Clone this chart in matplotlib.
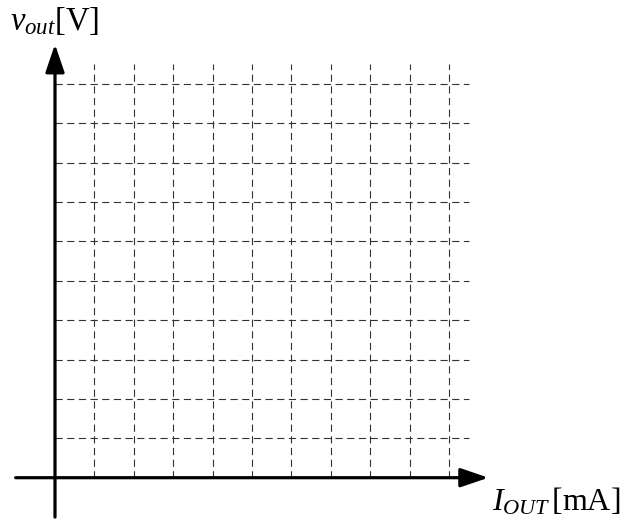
import matplotlib
matplotlib.use("Agg")
import matplotlib.pyplot as plt
from matplotlib.patches import ArrowStyle

# grid definition (in grid units)
grid_ticks = [1, 2, 3, 4, 5, 6, 7, 8, 9, 10]
grid_extent = 10.5
axis_start = -1
axis_end = 11
x_label = r'$I_{OUT}\,[\mathrm{mA}]$'
y_label = r'$v_{out}[\mathrm{V}]$'

plt.rcParams['mathtext.fontset'] = 'custom'
plt.rcParams['mathtext.rm'] = 'Liberation Serif'
plt.rcParams['mathtext.it'] = 'Liberation Serif:italic'
plt.rcParams['font.family'] = 'Liberation Serif'

W, H = 637, 521
ox, oy, unit = 55, 477.7, 39.4

fig = plt.figure(figsize=(W / 100, H / 100), dpi=100)
ax = fig.add_axes([0, 0, 1, 1])
ax.set_xlim(-ox / unit, (W - ox) / unit)
ax.set_ylim(-(H - oy) / unit, oy / unit)
ax.axis('off')

dash = (0, (6.5, 4))
for t in grid_ticks:
    ax.plot([t, t], [0, grid_extent], color='#333333', lw=0.8, linestyle=dash)
    ax.plot([0, grid_extent], [t, t], color='#333333', lw=0.8, linestyle=dash)

style = ArrowStyle('-|>', head_length=17, head_width=5.8)
for xy, xytext in [((axis_end, 0), (axis_start, 0)), ((0, axis_end), (0, axis_start))]:
    ax.annotate('', xy=xy, xytext=xytext,
                arrowprops=dict(arrowstyle=style, mutation_scale=1, lw=2.3,
                                color='black', shrinkA=0, shrinkB=0))

ax.text(-1.14, 11.37, y_label, fontsize=23.5, ha='left', va='baseline')
ax.text(11.09, -0.84, x_label, fontsize=23, ha='left', va='baseline')

fig.savefig('out.png', dpi=100)
